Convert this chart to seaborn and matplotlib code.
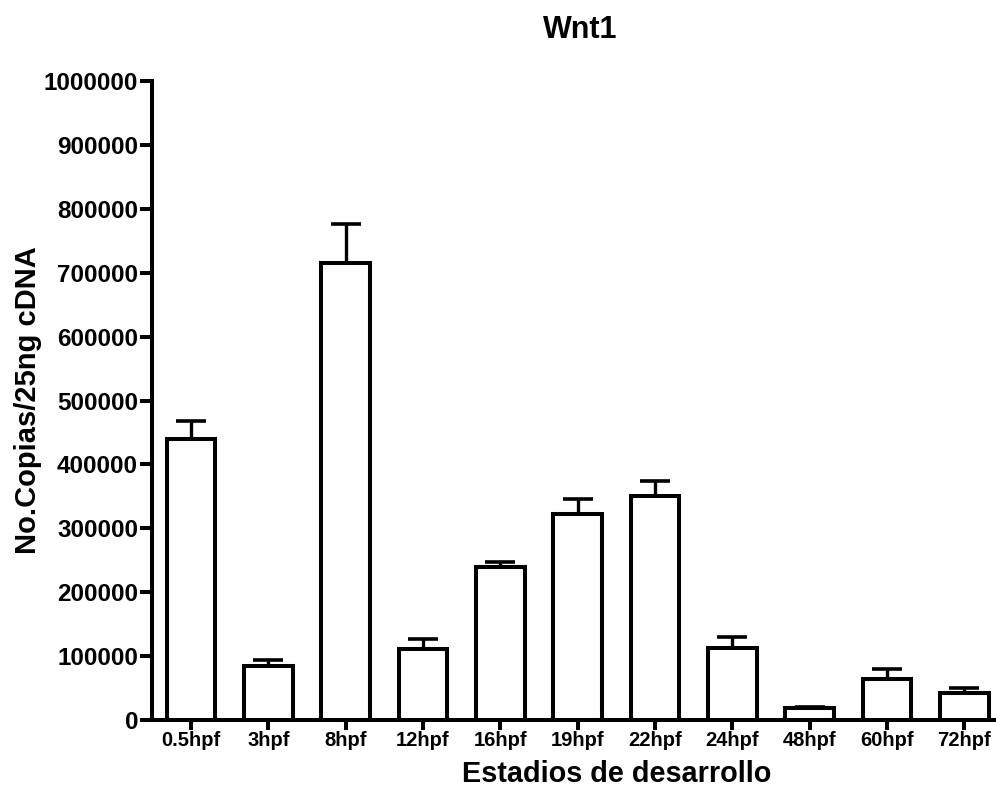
import numpy as np
import pandas as pd
import matplotlib
matplotlib.use("Agg")
import matplotlib.pyplot as plt
import seaborn as sns

# Wnt1 copy number per developmental stage (mean and SEM)
stages = ["0.5hpf", "3hpf", "8hpf", "12hpf", "16hpf", "19hpf",
          "22hpf", "24hpf", "48hpf", "60hpf", "72hpf"]
copies = [439000, 85000, 715000, 111000, 240000, 322000,
          351000, 112000, 19000, 64000, 43000]
sem = [29000, 9000, 61000, 16000, 6500, 24000,
       23000, 18000, 1000, 16000, 7000]
ytick_values = [0, 100000, 200000, 300000, 400000, 500000,
                600000, 700000, 800000, 900000, 1000000]

sns.set_style("ticks")
plt.rcParams["font.family"] = ["Liberation Sans", "DejaVu Sans"]
plt.rcParams["font.weight"] = "bold"
plt.rcParams["axes.labelweight"] = "bold"
for key in ("text.color", "axes.labelcolor", "axes.edgecolor",
            "xtick.color", "ytick.color"):
    plt.rcParams[key] = "black"

W, H = 996, 791
fig = plt.figure(figsize=(W / 100, H / 100), dpi=100)
ax = fig.add_axes([152 / W, 1 - 720 / H, (W - 152) / W, 639 / H])

df = pd.DataFrame({"stage": stages, "copies": copies})
sns.barplot(data=df, x="stage", y="copies", order=stages, color="white",
            saturation=1, edgecolor="black", linewidth=2.9, width=0.63,
            errorbar=None, ax=ax, zorder=3)

# upward-only error bars
x = np.arange(len(stages))
ax.errorbar(x, copies, yerr=[np.zeros(len(sem)), sem], fmt="none",
            ecolor="black", elinewidth=2.4, capsize=10.5, capthick=2.6,
            zorder=4)

ax.set_ylim(0, 1000000)
ax.set_xlim(-0.505, 10.41)
ax.set_yticks(ytick_values)
ax.set_yticklabels([str(v) for v in ytick_values], fontsize=17.5,
                   fontweight="bold")
ax.set_xticks(x)
ax.set_xticklabels(stages, fontsize=14.5, fontweight="bold")

for side in ("left", "bottom"):
    ax.spines[side].set_linewidth(2.9)
    ax.spines[side].set_color("black")
ax.spines["right"].set_visible(False)
ax.spines["top"].set_visible(False)
ax.tick_params(axis="y", length=9, width=2.9, pad=1, color="black",
               labelcolor="black")
ax.tick_params(axis="x", length=7, width=2.9, pad=1, color="black",
               labelcolor="black")

ax.set_xlabel("Estadios de desarrollo", fontsize=20.8, fontweight="bold",
              color="black")
ax.xaxis.set_label_coords(0.551, -0.062)
ax.set_ylabel("No.Copias/25ng cDNA", fontsize=21, fontweight="bold",
              color="black")
ax.yaxis.set_label_coords(-0.13, 0.5)
ax.set_title("Wnt1", fontsize=22, fontweight="bold", x=0.507, pad=31,
             color="black")

fig.savefig("out.png", dpi=100)
